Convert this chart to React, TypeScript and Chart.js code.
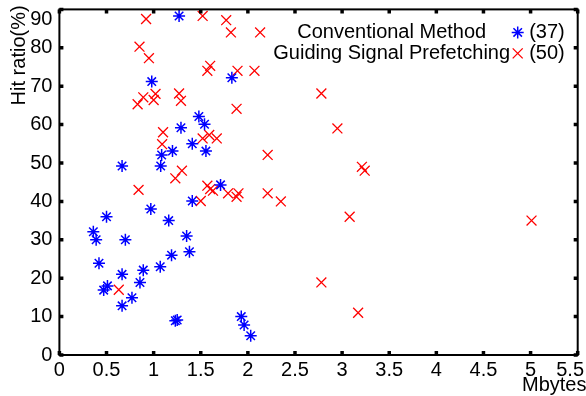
import React, { useEffect, useRef } from 'react';
import { Chart, registerables } from 'chart.js';

Chart.register(...registerables);

// Conventional Method (blue asterisks)
const convX = [1.27, 0.98, 1.83, 1.48, 1.54, 1.29, 1.41, 1.2, 1.085, 1.555, 0.665, 1.075, 1.71, 1.41, 0.97, 1.16, 0.5, 0.36, 0.39, 0.7, 1.35, 1.38, 1.19, 0.42, 1.07, 0.89, 0.665, 0.855, 0.47, 0.51, 0.77, 0.665, 1.23, 1.25, 1.93, 1.96, 2.03];
const convY = [88.3, 71.2, 72.2, 62.1, 60.1, 59.2, 55.0, 53.1, 52.1, 53.1, 49.2, 49.2, 44.3, 40.1, 38.0, 35.0, 36.0, 32.1, 30.0, 30.0, 31.0, 26.9, 26.0, 23.9, 23.0, 22.1, 21.0, 18.9, 16.9, 18.0, 14.9, 12.8, 8.9, 9.1, 10.0, 7.8, 5.0];

// Guiding Signal Prefetching (red crosses)
const gspX = [0.92, 1.52, 1.77, 1.82, 2.13, 0.85, 0.95, 1.57, 1.6, 1.89, 2.07, 0.89, 0.83, 1.02, 1.0, 1.27, 1.29, 1.88, 1.1, 1.09, 1.52, 1.59, 1.67, 2.21, 1.23, 1.3, 0.84, 1.5, 1.57, 1.6, 1.63, 1.79, 1.88, 1.9, 2.21, 2.35, 0.63, 2.78, 2.95, 3.21, 3.24, 3.08, 2.78, 3.17, 5.01];
const gspY = [87.5, 88.3, 87.2, 84.0, 84.0, 80.3, 77.3, 74.0, 75.3, 74.0, 74.0, 67.1, 65.3, 68.0, 66.4, 68.1, 66.2, 64.1, 58.0, 54.9, 56.4, 57.3, 56.4, 52.1, 46.0, 48.0, 43.0, 40.1, 44.1, 43.2, 42.8, 42.1, 41.2, 42.1, 42.1, 40.0, 17.0, 68.1, 59.0, 49.0, 48.0, 36.0, 18.9, 11.0, 35.0];

const xTicks = [0, 0.5, 1, 1.5, 2, 2.5, 3, 3.5, 4, 4.5, 5, 5.5];
const xTickLabels = ['0', '0.5', '1', '1.5', '2', '2.5', '3', '3.5', '4', '4.5', '5', '5.5'];
const yTicks = [0, 10, 20, 30, 40, 50, 60, 70, 80, 90];
const yTickLabels = ['0', '10', '20', '30', '40', '50', '60', '70', '80', '90'];

const seriesNames = ['Conventional Method', 'Guiding Signal Prefetching'];
const seriesCounts = ['(37)', '(50)'];
const xTitle = 'Mbytes';
const yTitle = 'Hit ratio(%)';

const BLUE = '#0000ff';
const RED = '#ff0000';
const FONT = '20px "Liberation Sans", Arial, sans-serif';

function drawStar(ctx: CanvasRenderingContext2D, x: number, y: number, r: number) {
  ctx.beginPath();
  for (let k = 0; k < 4; k++) {
    const a = (k * Math.PI) / 4;
    ctx.moveTo(x - Math.cos(a) * r, y - Math.sin(a) * r);
    ctx.lineTo(x + Math.cos(a) * r, y + Math.sin(a) * r);
  }
  ctx.stroke();
}

function drawX(ctx: CanvasRenderingContext2D, x: number, y: number, h: number) {
  ctx.beginPath();
  ctx.moveTo(x - h, y - h);
  ctx.lineTo(x + h, y + h);
  ctx.moveTo(x + h, y - h);
  ctx.lineTo(x - h, y + h);
  ctx.stroke();
}

const framePlugin = {
  id: 'matlabFrame',
  afterDraw(chart: any) {
    const { ctx, chartArea, scales } = chart;
    const { left, right, top, bottom } = chartArea;
    const xs = scales.x;
    const ys = scales.y;
    ctx.save();
    ctx.strokeStyle = '#000';
    ctx.lineWidth = 2;
    ctx.strokeRect(left, top, right - left, bottom - top);

    ctx.lineWidth = 3.5;
    const tl = 4;
    ctx.beginPath();
    xTicks.forEach((v) => {
      const px = xs.getPixelForValue(v);
      ctx.moveTo(px, bottom);
      ctx.lineTo(px, bottom - tl);
      ctx.moveTo(px, top);
      ctx.lineTo(px, top + tl);
    });
    yTicks.forEach((v) => {
      const py = ys.getPixelForValue(v);
      ctx.moveTo(left, py);
      ctx.lineTo(left + tl, py);
      ctx.moveTo(right, py);
      ctx.lineTo(right - tl, py);
    });
    ctx.stroke();

    ctx.fillStyle = '#000';
    ctx.font = FONT;
    ctx.textBaseline = 'middle';
    ctx.textAlign = 'left';
    xTicks.forEach((v, i) => {
      const px = xs.getPixelForValue(v);
      const lab = xTickLabels[i];
      const w = ctx.measureText(lab).width;
      let lx = px - w / 2;
      if (lx + w > chart.width - 2) lx = chart.width - 2 - w;
      ctx.fillText(lab, lx, bottom + 15);
    });
    ctx.textAlign = 'right';
    yTicks.forEach((v, i) => {
      const py = ys.getPixelForValue(v);
      ctx.fillText(yTickLabels[i], left - 7, Math.max(py, top + 10));
    });

    // axis titles
    ctx.save();
    ctx.translate(25, top + 46);
    ctx.rotate(-Math.PI / 2);
    ctx.textAlign = 'center';
    ctx.textBaseline = 'alphabetic';
    ctx.fillText(yTitle, 0, 0);
    ctx.restore();
    ctx.textAlign = 'left';
    ctx.textBaseline = 'alphabetic';
    ctx.fillText(xTitle, 522, 391);

    // legend
    ctx.textBaseline = 'middle';
    const rows = [top + 23, top + 44];
    ctx.textAlign = 'center';
    ctx.fillText(seriesNames[0], right - 186, rows[0]);
    ctx.fillText(seriesNames[1], right - 186, rows[1]);
    ctx.textAlign = 'left';
    ctx.fillText(seriesCounts[0], right - 48.5, rows[0]);
    ctx.fillText(seriesCounts[1], right - 48.5, rows[1]);
    ctx.strokeStyle = BLUE;
    ctx.lineWidth = 1.5;
    drawStar(ctx, right - 60, rows[0], 6);
    ctx.strokeStyle = RED;
    ctx.lineWidth = 1.3;
    drawX(ctx, right - 60, rows[1], 5);
    ctx.restore();
  },
};

export default function App() {
  const ref = useRef<HTMLCanvasElement | null>(null);
  useEffect(() => {
    document.body.style.margin = '0';
    const canvas = ref.current;
    if (!canvas) return;
    const chart = new Chart(canvas, {
      type: 'scatter',
      data: {
        datasets: [
          {
            label: seriesNames[0],
            data: convX.map((x, i) => ({ x, y: convY[i] })),
            pointStyle: 'star',
            radius: 6,
            borderColor: BLUE,
            backgroundColor: BLUE,
            borderWidth: 1.5,
          },
          {
            label: seriesNames[1],
            data: gspX.map((x, i) => ({ x, y: gspY[i] })),
            pointStyle: 'crossRot',
            radius: 7,
            borderColor: RED,
            backgroundColor: RED,
            borderWidth: 1.3,
          },
        ],
      },
      options: {
        responsive: false,
        animation: false,
        events: [],
        layout: { padding: { top: 9.4, right: 3.5, left: 0, bottom: 0 } },
        plugins: { legend: { display: false }, tooltip: { enabled: false } },
        scales: {
          x: {
            type: 'linear',
            min: 0,
            max: 5.5,
            ticks: { display: false },
            grid: { display: false },
            border: { display: false },
            afterFit: (s: any) => { s.height = 41; },
          },
          y: {
            type: 'linear',
            min: 0,
            max: 90,
            ticks: { display: false },
            grid: { display: false },
            border: { display: false },
            afterFit: (s: any) => { s.width = 59.4; },
          },
        },
      },
      plugins: [framePlugin],
    });
    return () => chart.destroy();
  }, []);
  return (
    <canvas
      ref={ref}
      width={586}
      height={396}
      style={{ display: 'block', width: 586, height: 396 }}
    />
  );
}
